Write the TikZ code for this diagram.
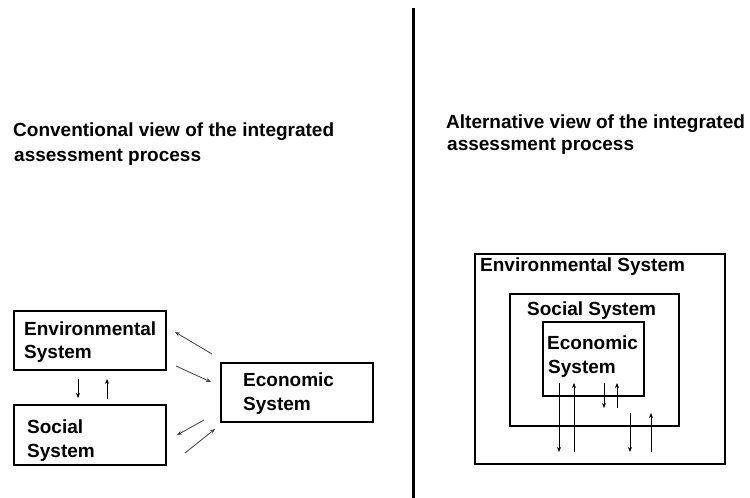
\documentclass[tikz,border=0pt]{standalone}
\usepackage{fontspec}
\setmainfont{Liberation Sans}
\usetikzlibrary{arrows.meta}
\begin{document}
\begin{tikzpicture}[x=1pt,y=-1pt,
  lbl/.style={font=\bfseries\fontsize{19}{23}\selectfont, inner sep=0pt, anchor=base west},
  boxthick/.style={draw, line width=2.2pt, inner sep=0pt, anchor=north west},
  boxthin/.style={draw, line width=1.5pt, inner sep=0pt, anchor=north west},
  flow/.style={line width=1pt, -{Stealth[length=5pt,width=4pt]}},
  link/.style={line width=0.8pt, draw=black!75, -{Stealth[length=5pt,width=4pt]}}]
\useasboundingbox (0,0) rectangle (750,498);

% divider between the two views
\draw[line width=3pt] (413,8) -- (413,498);

% ---------- conventional view ----------
\node[lbl] (convA) at (13,136) {Conventional view of the integrated};
\node[lbl] (convB) at (14,161) {assessment process};

\node[boxthick, minimum width=152pt, minimum height=59pt] (env) at (13,310) {};
\node[lbl] (envA) at (24,335) {Environmental};
\node[lbl] (envB) at (24,358) {System};

\node[boxthick, minimum width=152pt, minimum height=60pt] (soc) at (13,404) {};
\node[lbl] (socA) at (27,433) {Social};
\node[lbl] (socB) at (27,457) {System};

\node[boxthick, minimum width=152pt, minimum height=59pt] (eco) at (220,362) {};
\node[lbl] (ecoA) at (243,386) {Economic};
\node[lbl] (ecoB) at (243,410) {System};

% environmental <-> social
\coordinate (es1) at (78,379);  \coordinate (es2) at (78,398);
\coordinate (se1) at (107,399); \coordinate (se2) at (107,379);
\draw[flow] (es1) -- (es2);
\draw[flow] (se1) -- (se2);

% links with the economic system
\coordinate (l1a) at (212,354); \coordinate (l1b) at (175,332);
\coordinate (l2a) at (176,366); \coordinate (l2b) at (211,382);
\coordinate (l3a) at (204,420); \coordinate (l3b) at (177,435);
\coordinate (l4a) at (185,453); \coordinate (l4b) at (215,429);
\draw[link] (l1a) -- (l1b);
\draw[link] (l2a) -- (l2b);
\draw[link] (l3a) -- (l3b);
\draw[link] (l4a) -- (l4b);

% ---------- alternative view ----------
\node[lbl] (altA) at (446,128) {Alternative view of the integrated};
\node[lbl] (altB) at (447,150) {assessment process};

\node[boxthin, minimum width=250pt, minimum height=210pt] (envN) at (474,253) {};
\node[lbl] (envNt) at (480,271) {Environmental System};

\node[boxthin, minimum width=169pt, minimum height=132pt] (socN) at (509,293) {};
\node[lbl] (socNt) at (527,315) {Social System};

\node[boxthin, minimum width=101pt, minimum height=74pt] (ecoN) at (542,321) {};
\node[lbl] (ecoNA) at (547,349) {Economic};
\node[lbl] (ecoNB) at (548,373) {System};

% exchanges across the nested systems
\coordinate (a1) at (559,383); \coordinate (a2) at (559,452);
\coordinate (b1) at (574,452); \coordinate (b2) at (574,383);
\coordinate (c1) at (604,383); \coordinate (c2) at (604,408);
\coordinate (d1) at (617,408); \coordinate (d2) at (617,383);
\coordinate (e1) at (630,413); \coordinate (e2) at (630,452);
\coordinate (f1) at (651,452); \coordinate (f2) at (651,413);
\draw[flow] (a1) -- (a2);
\draw[flow] (b1) -- (b2);
\draw[flow] (c1) -- (c2);
\draw[flow] (d1) -- (d2);
\draw[flow] (e1) -- (e2);
\draw[flow] (f1) -- (f2);
\end{tikzpicture}
\end{document}
